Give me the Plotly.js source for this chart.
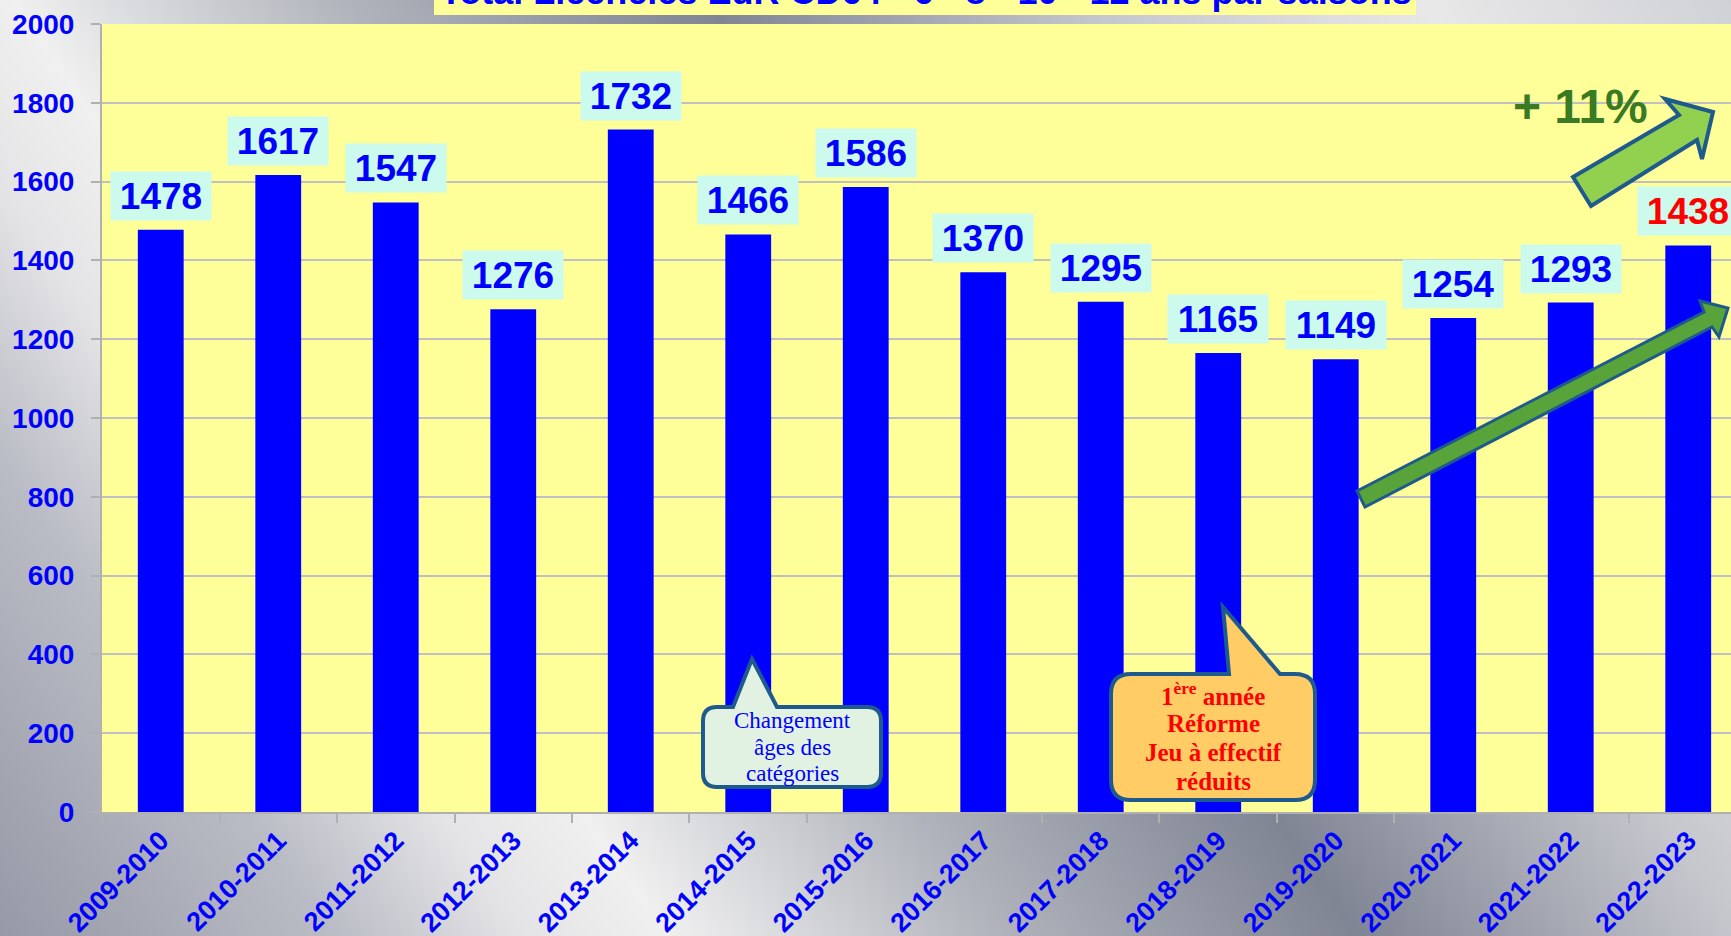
<!DOCTYPE html>
<html>
<head>
<meta charset="utf-8">
<script src="https://cdn.plot.ly/plotly-3.0.1.min.js"></script>
<style>
html,body{margin:0;padding:0;overflow:hidden;}
#chart{width:1731px;height:936px;
background:linear-gradient(55deg,#969aa6 0%,#babcc5 14%,#e4e4e6 22%,#f0f0f0 28%,#b0b3bb 42%,#808594 57%,#c6c7cd 73%,#e8e8e8 87%,#d0d1d6 100%);}
</style>
</head>
<body>
<div id="chart"></div>
<script>
// ---- data ----
const categories = ['2009-2010','2010-2011','2011-2012','2012-2013','2013-2014','2014-2015','2015-2016','2016-2017','2017-2018','2018-2019','2019-2020','2020-2021','2021-2022','2022-2023'];
const values = [1478,1617,1547,1276,1732,1466,1586,1370,1295,1165,1149,1254,1293,1438];
const labelColors = ['#0000FF','#0000FF','#0000FF','#0000FF','#0000FF','#0000FF','#0000FF','#0000FF','#0000FF','#0000FF','#0000FF','#0000FF','#0000FF','#FF0000'];
const yTicks = [0,200,400,600,800,1000,1200,1400,1600,1800,2000];
const titleText = 'Total Licenciés EdR CD64 - 6 - 8 - 10 - 12 ans par saisons';
const growthText = '+ 11%';
const callout1Lines = ['Changement','âges des','catégories'];
const callout2Lines = ['1<sup>ère</sup> année','Réforme','Jeu à effectif','réduits'];

// ---- geometry helpers (pixel -> paper) ----
const L = 102, W = 1629, B = 812, H = 788;
const px = x => (x - L) / W;
const py = y => (B - y) / H;
const P = (x, y) => px(x).toFixed(5) + ',' + py(y).toFixed(5);
function poly(pts){ return 'M' + pts.map(p => P(p[0], p[1])).join(' L') + ' Z'; }
function callout(x0, y0, x1, y1, r, bl, br, tx, ty){
  return 'M' + P(x0 + r, y0) + ' L' + P(bl, y0) + ' L' + P(tx, ty) + ' L' + P(br, y0) +
    ' L' + P(x1 - r, y0) + ' Q' + P(x1, y0) + ' ' + P(x1, y0 + r) +
    ' L' + P(x1, y1 - r) + ' Q' + P(x1, y1) + ' ' + P(x1 - r, y1) +
    ' L' + P(x0 + r, y1) + ' Q' + P(x0, y1) + ' ' + P(x0, y1 - r) +
    ' L' + P(x0, y0 + r) + ' Q' + P(x0, y0) + ' ' + P(x0 + r, y0) + ' Z';
}

const FONT = 'Liberation Sans, Arial, sans-serif';
const SERIF = 'Liberation Serif, Times New Roman, serif';

const trace = {
  type: 'bar', x: categories, y: values,
  marker: {color: '#0000FF', line: {width: 0}},
  width: 0.39, hoverinfo: 'none'
};

const annotations = [];
categories.forEach((c, i) => {
  annotations.push({
    x: c, y: values[i], xref: 'x', yref: 'y', yanchor: 'bottom', xanchor: 'center',
    yshift: 9, showarrow: false, text: String(values[i]),
    font: {family: FONT, size: 37, color: labelColors[i], weight: 'bold'},
    bgcolor: '#CCFAEC', width: 86, height: 34, borderpad: 7
  });
});
annotations.push({
  xref: 'paper', yref: 'paper', x: px(926), y: py(14), xanchor: 'center', yanchor: 'bottom',
  showarrow: false, text: '<b>' + titleText + '</b>',
  font: {family: FONT, size: 36, color: '#0000FF'}
});
annotations.push({
  xref: 'paper', yref: 'paper', x: px(1580), y: py(106), xanchor: 'center', yanchor: 'middle',
  showarrow: false, text: '<b>' + growthText + '</b>',
  font: {family: FONT, size: 48, color: '#3A7A22'}
});
const c1y = [720, 747, 773];
callout1Lines.forEach((t, i) => annotations.push({
  xref: 'paper', yref: 'paper', x: px(792), y: py(c1y[i]), xanchor: 'center', yanchor: 'middle',
  showarrow: false, text: t, font: {family: SERIF, size: 23, color: '#0000FF'}
}));
const c2y = [694, 723, 752, 781];
callout2Lines.forEach((t, i) => annotations.push({
  xref: 'paper', yref: 'paper', x: px(1213), y: py(c2y[i]), xanchor: 'center', yanchor: 'middle',
  showarrow: false, text: '<b>' + t + '</b>', font: {family: SERIF, size: 25, color: '#FF0000'}
}));

const shapes = [
  // title box
  {type: 'rect', xref: 'paper', yref: 'paper', x0: px(434), x1: px(1416), y0: py(15), y1: py(-5),
   fillcolor: '#FFFF99', line: {width: 0}, layer: 'above'},
  // lower long arrow
  {type: 'path', xref: 'paper', yref: 'paper', layer: 'above',
   path: poly([[1357,491],[1704,312],[1700,301],[1728,308],[1719,337],[1712,327],[1365,507]]),
   fillcolor: '#58A43A', line: {color: '#1F5A8C', width: 3}},
  // upper thick arrow
  {type: 'path', xref: 'paper', yref: 'paper', layer: 'above',
   path: poly([[1573,177],[1679,115],[1665,99],[1713,112],[1702,159],[1697,140],[1591,206]]),
   fillcolor: '#92D050', line: {color: '#1F5A8C', width: 4}},
  // callout 1
  {type: 'path', xref: 'paper', yref: 'paper', layer: 'above',
   path: callout(703, 707, 881, 787, 14, 733, 777, 752, 659),
   fillcolor: '#E2F2E2', line: {color: '#1F5A8C', width: 4}},
  // callout 2
  {type: 'path', xref: 'paper', yref: 'paper', layer: 'above',
   path: callout(1111, 674, 1315, 800, 20, 1229, 1280, 1223, 607),
   fillcolor: '#FFCC66', line: {color: '#1F5A8C', width: 4}}
];

const layout = {
  width: 1731, height: 936,
  margin: {l: L, r: 0, t: 24, b: 124, pad: 0},
  paper_bgcolor: 'rgba(0,0,0,0)', plot_bgcolor: '#FFFF99',
  showlegend: false, bargap: 0.61,
  xaxis: {
    type: 'category', range: [-0.5, 13.364], tickangle: -45,
    tickson: 'boundaries', ticks: 'outside', ticklen: 9, tickwidth: 2, tickcolor: '#B0B0B0',
    showline: true, linecolor: '#B0B0B0', linewidth: 2, showgrid: false,
    tickfont: {family: FONT, size: 27, color: '#0000FF', weight: 'bold'},
    fixedrange: true
  },
  yaxis: {
    range: [0, 2000], tickvals: yTicks, ticktext: yTicks.map(String),
    ticks: 'outside', ticklen: 9, tickwidth: 2, tickcolor: '#B0B0B0',
    showline: true, linecolor: '#B0B0B0', linewidth: 2,
    showgrid: true, gridcolor: '#C0C0C0', gridwidth: 2, zeroline: false,
    ticklabelstandoff: 11,
    tickfont: {family: FONT, size: 28, color: '#0000FF', weight: 'bold'},
    fixedrange: true
  },
  annotations: annotations,
  shapes: shapes
};

Plotly.newPlot('chart', [trace], layout, {displayModeBar: false, staticPlot: true});
</script>
</body>
</html>
